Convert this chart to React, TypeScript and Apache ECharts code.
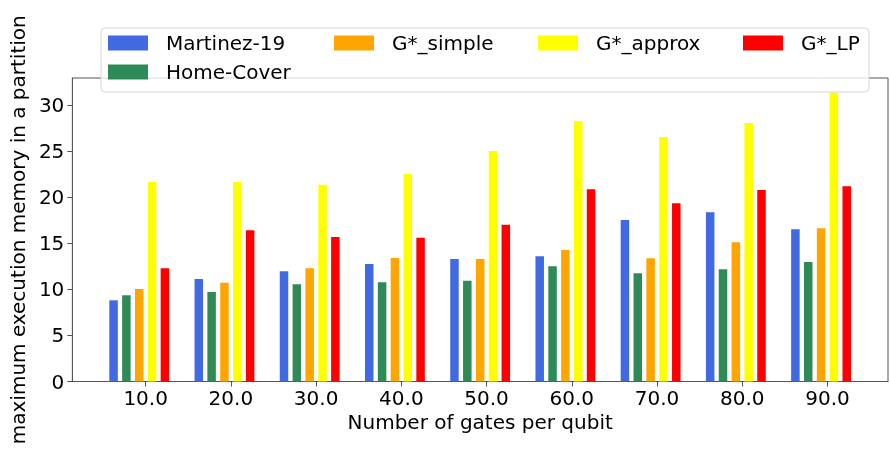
import React, { useEffect, useRef } from "react";
import * as echarts from "echarts";

const gatesPerQubit = [10, 20, 30, 40, 50, 60, 70, 80, 90];
const martinez19 = [8.81, 11.12, 11.96, 12.75, 13.29, 13.58, 17.52, 18.36, 16.51];
const homeCover = [9.35, 9.71, 10.54, 10.76, 10.94, 12.5, 11.74, 12.17, 12.97];
const gSimple = [10.04, 10.72, 12.28, 13.4, 13.29, 14.27, 13.36, 15.1, 16.62];
const gApprox = [21.65, 21.65, 21.36, 22.51, 25.0, 28.26, 26.53, 28.05, 31.36];
const gLP = [12.28, 16.4, 15.68, 15.6, 17.01, 20.85, 19.33, 20.78, 21.18];
const emptySlot = [0, 0, 0, 0, 0, 0, 0, 0, 0];
const yTicks = [0, 5, 10, 15, 20, 25, 30];

const seriesDefs = [
  { name: "Martinez-19", data: martinez19, color: "#4169E1" },
  { name: "Home-Cover", data: homeCover, color: "#2E8B57" },
  { name: "G*_simple", data: gSimple, color: "#FFA500" },
  { name: "G*_approx", data: gApprox, color: "#FFFF00" },
  { name: "G*_LP", data: gLP, color: "#FF0000" },
];

const FONT = "DejaVu Sans";
const AXIS = "#555555";

export default function App() {
  const ref = useRef<HTMLDivElement>(null);
  useEffect(() => {
    if (!ref.current) return;
    const chart = echarts.init(ref.current, null, { renderer: "svg" });
    const legendPos = [
      { name: "Martinez-19", left: 108, top: 33 },
      { name: "Home-Cover", left: 108, top: 62 },
      { name: "G*_simple", left: 334, top: 33 },
      { name: "G*_approx", left: 538, top: 33 },
      { name: "G*_LP", left: 743, top: 33 },
    ];
    const series: any[] = seriesDefs.map((s) => ({
      type: "bar",
      name: s.name,
      data: gatesPerQubit.map((x, i) => [x, s.data[i]]),
      barWidth: 8.5,
      barGap: "51%",
      itemStyle: { color: s.color },
    }));
    // sixth, empty slot of the original grouped layout
    series.push({
      type: "bar",
      name: "_slot",
      data: gatesPerQubit.map((x, i) => [x, emptySlot[i]]),
      barWidth: 8.5,
      barGap: "51%",
      itemStyle: { color: "rgba(0,0,0,0)" },
      silent: true,
    });
    chart.setOption({
      animation: false,
      textStyle: { fontFamily: FONT },
      grid: {
        left: 68,
        right: 2,
        top: 78,
        bottom: 68.5,
        show: true,
        borderColor: AXIS,
        borderWidth: 1,
        backgroundColor: "transparent",
      },
      xAxis: {
        type: "value",
        min: 1.4,
        max: 97.1,
        name: "Number of gates per qubit",
        nameLocation: "middle",
        nameGap: 25,
        nameTextStyle: { fontSize: 20, color: "#000", fontFamily: FONT },
        splitLine: { show: false },
        axisLine: { show: true, lineStyle: { color: AXIS } },
        axisTick: {
          show: true,
          length: 5,
          lineStyle: { color: AXIS },
          customValues: gatesPerQubit,
        },
        axisLabel: {
          fontSize: 20,
          color: "#000",
          fontFamily: FONT,
          margin: 6,
          customValues: gatesPerQubit,
          formatter: (v: number) => v.toFixed(1),
        },
      },
      yAxis: {
        type: "value",
        min: 0,
        max: 32.93,
        name: "maximum execution memory in a partition",
        nameLocation: "middle",
        nameGap: 34,
        nameTextStyle: { fontSize: 20, color: "#000", fontFamily: FONT },
        splitLine: { show: false },
        axisLine: { show: true, lineStyle: { color: AXIS } },
        axisTick: {
          show: true,
          length: 5,
          lineStyle: { color: AXIS },
          customValues: yTicks,
        },
        axisLabel: {
          fontSize: 20,
          color: "#000",
          fontFamily: FONT,
          margin: 8,
          customValues: yTicks,
        },
      },
      legend: legendPos.map((l) => ({
        data: [l.name],
        left: l.left,
        top: l.top,
        padding: 0,
        z: 20,
        icon: "rect",
        itemWidth: 40,
        itemHeight: 15,
        selectedMode: false,
        textStyle: {
          fontSize: 20,
          color: "#000",
          fontFamily: FONT,
          lineHeight: 20,
          padding: [0, 0, 0, 13],
        },
      })),
      graphic: [
        {
          type: "rect",
          z: 10,
          shape: { x: 101, y: 28, width: 768, height: 64, r: 4 },
          style: {
            fill: "rgba(255,255,255,0.8)",
            stroke: "#d6d6d6",
            lineWidth: 1,
          },
        },
      ],
      series,
    });
    return () => chart.dispose();
  }, []);
  return (
    <div
      ref={ref}
      style={{ position: "fixed", left: 0, top: 0, width: 890, height: 450 }}
    />
  );
}
